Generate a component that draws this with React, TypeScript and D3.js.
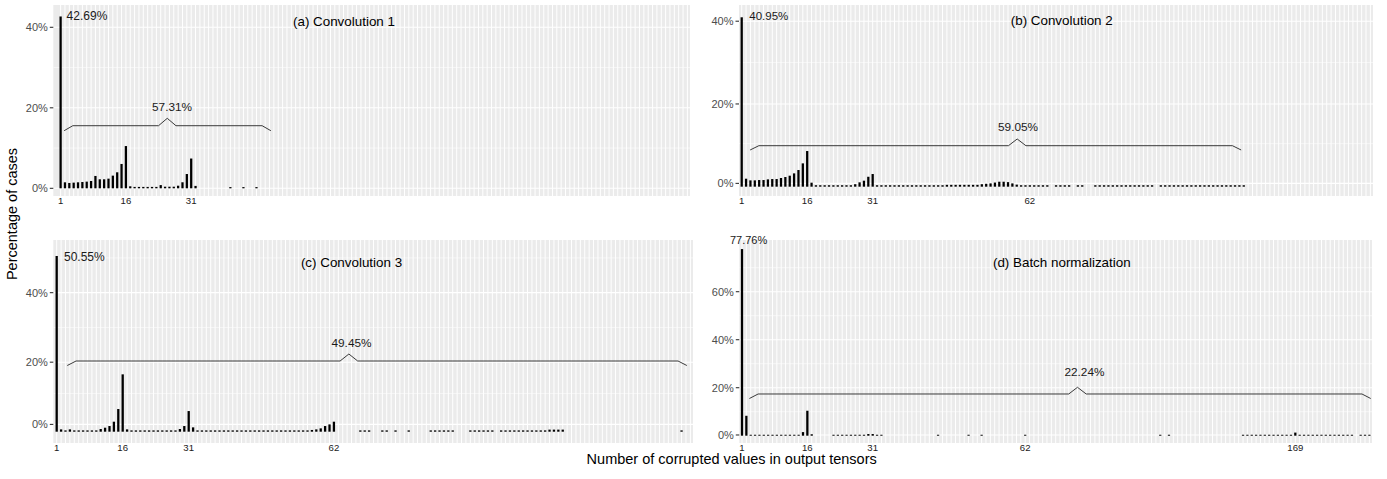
import React from "react";
import * as d3 from "d3";

// ---------- categories (discrete x positions of the shared factor) ----------
const N_LEVELS = 145;
const xLevels: number[] = d3.range(1, N_LEVELS + 1);

// ---------- (a) Convolution 1 ----------
const conv1X = [1,2,3,4,5,6,7,8,9,10,11,12,13,14,15,16,17,18,19,20,21,22,23,24,25,26,27,28,29,30,31,32,40,43,46];
const conv1Y = [42.69,1.49,1.33,1.41,1.49,1.57,1.66,1.82,3.07,2.24,2.24,2.4,3.15,3.98,6.05,10.5,0.5,0.35,0.35,0.35,0.35,0.35,0.35,0.8,0.4,0.4,0.4,0.65,1.5,3.55,7.4,0.6,0.3,0.3,0.3];

// ---------- (b) Convolution 2 ----------
const conv2X = [1,2,3,4,5,6,7,8,9,10,11,12,13,14,15,16,17,
  18,19,20,21,22,23,24,25,26,27,28,29,30,31,
  32,33,34,35,36,37,38,39,40,41,42,43,44,45,46,47,48,49,50,51,52,53,54,55,
  56,57,58,59,60,61,62,63,64,65,66,67,68,69,70,71,
  73,74,75,76,78,79,
  82,83,84,85,86,87,88,89,90,91,92,93,94,95,
  97,98,99,100,101,102,103,104,105,106,107,108,109,110,111,112,113,114,115,116];
const conv2Y = [40.95,1.93,1.53,1.53,1.61,1.61,1.77,1.85,1.85,2.1,2.34,2.66,3.22,4.03,5.64,8.62,0.97,
  0.35,0.35,0.35,0.35,0.35,0.35,0.35,0.35,0.35,0.6,1.05,1.45,2.4,3.06,
  0.35,0.35,0.35,0.35,0.35,0.35,0.35,0.35,0.35,0.35,0.35,0.35,0.35,0.35,0.35,0.35,0.45,0.45,0.45,0.45,0.45,0.45,0.45,0.45,
  0.6,0.7,0.8,1.0,1.2,1.2,1.1,0.8,0.5,0.35,0.35,0.35,0.35,0.35,0.35,0.35,
  0.35,0.35,0.35,0.35,0.35,0.35,
  0.35,0.35,0.35,0.35,0.35,0.35,0.35,0.35,0.35,0.35,0.35,0.35,0.35,0.35,
  0.35,0.35,0.35,0.35,0.35,0.35,0.35,0.35,0.35,0.35,0.35,0.35,0.35,0.35,0.35,0.35,0.35,0.35,0.35,0.35];

// ---------- (c) Convolution 3 ----------
const conv3X = [1,2,3,4,5,6,7,8,9,10,11,12,13,14,15,16,17,18,19,20,21,22,23,24,25,26,27,28,29,30,31,32,
  33,34,35,36,37,38,39,40,41,42,43,44,45,46,47,48,49,50,51,52,53,54,55,56,57,58,59,60,61,62,63,64,
  70,71,72,75,76,78,81,86,87,88,89,90,91,95,96,97,98,99,100,
  102,103,104,105,106,107,108,109,110,111,112,113,114,115,116,143];
const conv3Y = [50.55,0.67,0.38,0.67,0.38,0.38,0.38,0.38,0.38,0.38,0.77,1.15,1.63,2.88,6.52,16.5,0.67,0.38,0.38,0.38,0.38,0.38,0.38,0.38,0.38,0.38,0.38,0.38,0.77,1.63,5.94,1.25,
  0.38,0.38,0.38,0.38,0.38,0.38,0.38,0.38,0.38,0.38,0.38,0.38,0.38,0.38,0.38,0.38,0.38,0.38,0.38,0.38,0.38,0.38,0.38,0.38,0.38,0.38,0.5,0.67,0.96,1.63,2.1,2.88,
  0.38,0.38,0.38,0.38,0.38,0.38,0.38,0.38,0.38,0.38,0.38,0.38,0.38,0.38,0.38,0.38,0.38,0.38,0.38,
  0.38,0.38,0.38,0.38,0.38,0.38,0.38,0.38,0.38,0.38,0.38,0.6,0.6,0.6,0.6,0.38];

// ---------- (d) Batch normalization ----------
const bnX = [1,2,3,4,5,6,7,8,9,10,11,12,13,14,15,16,17,
  22,23,24,25,26,27,28,29,30,31,32,33,46,53,56,66,97,99,
  116,117,118,119,120,121,122,123,124,125,126,127,128,
  129,130,131,132,133,134,135,136,137,138,139,140,141,143,144,145];
const bnY = [77.76,8.3,0.4,0.4,0.4,0.4,0.4,0.4,0.4,0.4,0.4,0.4,0.4,0.4,1.5,10.4,0.6,
  0.4,0.4,0.4,0.4,0.4,0.4,0.4,0.4,0.7,0.7,0.4,0.4,0.4,0.4,0.4,0.4,0.4,0.4,
  0.4,0.4,0.4,0.4,0.4,0.4,0.4,0.4,0.4,0.4,0.4,0.4,1.3,
  0.4,0.4,0.4,0.4,0.4,0.4,0.4,0.4,0.4,0.4,0.4,0.4,0.4,0.4,0.4,0.4];

// ---------- tick labels ----------
const ticksA: [number, string][] = [[1, "1"], [16, "16"], [31, "31"]];
const ticksB: [number, string][] = [[1, "1"], [16, "16"], [31, "31"], [67, "62"]];
const ticksC: [number, string][] = [[1, "1"], [16, "16"], [31, "31"], [64, "62"]];
const ticksD: [number, string][] = [[1, "1"], [16, "16"], [31, "31"], [66, "62"], [128, "169"]];

const yLabels3 = ["0%", "20%", "40%"];
const yLabels4 = ["0%", "20%", "40%", "60%"];

const FONT = "'Liberation Sans', Arial, Helvetica, sans-serif";

type Brace = { x0: number; x1: number; xPeak: number; yLine: number; yTip: number; yPeak: number; label: string; labelX: number; labelY: number };
type PanelCfg = {
  id: string;
  title: string; titleX: number; titleY: number;
  xs: number[]; ys: number[];
  box: { left: number; right: number; top: number; bottom: number };
  padL: number; padR: number;
  yDomain: [number, number];
  yTickVals: number[]; yTickLabels: string[]; yMinor: number[];
  xTicks: [number, string][];
  brace: Brace;
  top: { text: string; dx: number; dy: number; anchor: "start" | "middle"; size: number };
};

const panels: PanelCfg[] = [
  {
    id: "a", title: "(a) Convolution 1", titleX: 66.1, titleY: 40.3,
    xs: conv1X, ys: conv1Y,
    box: { left: 53.3, right: 690, top: 5, bottom: 196 },
    padL: 1.68, padR: 0.6,
    yDomain: [-1.91, 45.54],
    yTickVals: [0, 20, 40], yTickLabels: yLabels3, yMinor: [10, 30],
    xTicks: ticksA,
    brace: { x0: 1.8, x1: 49.3, xPeak: 25.5, yLine: 15.55, yTip: 14.31, yPeak: 17.39, label: "57.31%", labelX: 26.6, labelY: 19.28 },
    top: { text: "42.69%", dx: 6, dy: 0, anchor: "start", size: 12 },
  },
  {
    id: "b", title: "(b) Convolution 2", titleX: 74.3, titleY: 39,
    xs: conv2X, ys: conv2Y,
    box: { left: 739, right: 1373, top: 5, bottom: 196 },
    padL: 0.62, padR: 0.6,
    yDomain: [-2.25, 43.92],
    yTickVals: [0.8, 20, 40], yTickLabels: yLabels3, yMinor: [10.4, 30],
    xTicks: ticksB,
    brace: { x0: 2.93, x1: 115.4, xPeak: 64.1, yLine: 9.91, yTip: 8.87, yPeak: 11.53, label: "59.05%", labelX: 64.3, labelY: 13.54 },
    top: { text: "40.95%", dx: 7.6, dy: -1, anchor: "start", size: 11.5 },
  },
  {
    id: "c", title: "(c) Convolution 3", titleX: 68, titleY: 47.4,
    xs: conv3X, ys: conv3Y,
    box: { left: 53.3, right: 693, top: 240, bottom: 443 },
    padL: 0.77, padR: 0.6,
    yDomain: [-3.25, 55.15],
    yTickVals: [2.1, 20, 40], yTickLabels: yLabels3, yMinor: [11, 30, 50],
    xTicks: ticksC,
    brace: { x0: 3.4, x1: 144.2, xPeak: 67.4, yLine: 20.34, yTip: 19.04, yPeak: 22.35, label: "49.45%", labelX: 68, labelY: 24.45 },
    top: { text: "50.55%", dx: 7.3, dy: 1.5, anchor: "start", size: 12 },
  },
  {
    id: "d", title: "(d) Batch normalization", titleX: 74.4, titleY: 70.3,
    xs: bnX, ys: bnY,
    box: { left: 739.3, right: 1372, top: 240, bottom: 443 },
    padL: 0.62, padR: 0.6,
    yDomain: [-3.04, 81.54],
    yTickVals: [0.3, 20, 40, 60], yTickLabels: yLabels4, yMinor: [10, 30, 50, 70],
    xTicks: ticksD,
    brace: { x0: 2.7, x1: 145.3, xPeak: 78, yLine: 17.38, yTip: 15.5, yPeak: 20.17, label: "22.24%", labelX: 79.6, labelY: 25 },
    top: { text: "77.76%", dx: 6.6, dy: -9.3, anchor: "middle", size: 11 },
  },
];

function Panel({ cfg }: { cfg: PanelCfg }) {
  const { box } = cfg;
  const step = (box.right - box.left) / (N_LEVELS - 1 + cfg.padL + cfg.padR);
  const x = d3.scaleLinear().domain([1, N_LEVELS]).range([box.left + cfg.padL * step, box.right - cfg.padR * step]);
  const y = d3.scaleLinear().domain(cfg.yDomain).range([box.bottom, box.top]);
  const barW = step * 0.52;
  const b = cfg.brace;
  const slope = 2;
  const bracePts: [number, number][] = [
    [x(b.x0), y(b.yTip)],
    [x(b.x0 + slope), y(b.yLine)],
    [x(b.xPeak - slope), y(b.yLine)],
    [x(b.xPeak), y(b.yPeak)],
    [x(b.xPeak + slope), y(b.yLine)],
    [x(b.x1 - slope), y(b.yLine)],
    [x(b.x1), y(b.yTip)],
  ];
  const line = d3.line();
  const clipId = `clip-${cfg.id}`;
  return (
    <g>
      <defs>
        <clipPath id={clipId}>
          <rect x={box.left} y={box.top} width={box.right - box.left} height={box.bottom - box.top} />
        </clipPath>
      </defs>
      <rect x={box.left} y={box.top} width={box.right - box.left} height={box.bottom - box.top} fill="#EBEBEB" />
      <g clipPath={`url(#${clipId})`}>
        {cfg.yMinor.map((v) => (
          <line key={`mn${v}`} x1={box.left} x2={box.right} y1={y(v)} y2={y(v)} stroke="#fff" strokeWidth={0.55} />
        ))}
        {cfg.yTickVals.map((v) => (
          <line key={`mj${v}`} x1={box.left} x2={box.right} y1={y(v)} y2={y(v)} stroke="#fff" strokeWidth={1.1} />
        ))}
        {xLevels.map((k) => (
          <line key={`vx${k}`} x1={x(k)} x2={x(k)} y1={box.top} y2={box.bottom} stroke="#fff" strokeWidth={1} />
        ))}
        {cfg.xs.map((k, i) => {
          const v = cfg.ys[i];
          const y0 = y(0);
          const y1 = y(v);
          return <rect key={`bar${k}`} x={x(k) - barW / 2} y={y1} width={barW} height={Math.max(0.8, y0 - y1)} fill="#000" />;
        })}
      </g>
      <path d={line(bracePts) || ""} fill="none" stroke="#3a3a3a" strokeWidth={1} />
      <text x={x(b.labelX)} y={y(b.labelY)} textAnchor="middle" fontSize={11.8} fontFamily={FONT} fill="#1a1a1a">{b.label}</text>
      <text x={x(cfg.titleX)} y={y(cfg.titleY)} textAnchor="middle" fontSize={13.4} fontFamily={FONT} fill="#000">{cfg.title}</text>
      <text x={x(1) + cfg.top.dx} y={y(cfg.ys[0]) + cfg.top.dy} textAnchor={cfg.top.anchor} dominantBaseline="central" fontSize={cfg.top.size} fontFamily={FONT} fill="#1a1a1a">{cfg.top.text}</text>
      {cfg.yTickVals.map((v, i) => (
        <g key={`yt${i}`}>
          <line x1={box.left - 3.5} x2={box.left} y1={y(v)} y2={y(v)} stroke="#333" strokeWidth={1.1} />
          <text x={box.left - 5.5} y={y(v)} textAnchor="end" dominantBaseline="central" fontSize={11} fontFamily={FONT} fill="#4d4d4d">{cfg.yTickLabels[i]}</text>
        </g>
      ))}
      {cfg.xTicks.map(([k, lab]) => (
        <text key={`xt${k}`} x={x(k)} y={box.bottom + 8} textAnchor="middle" fontSize={9.6} fontFamily={FONT} fill="#1a1a1a">{lab}</text>
      ))}
    </g>
  );
}

export default function App() {
  return (
    <svg width={1387} height={479} style={{ position: "absolute", left: 0, top: 0, background: "#fff" }} xmlns="http://www.w3.org/2000/svg">
      <rect x={0} y={0} width={1387} height={479} fill="#fff" />
      {panels.map((p) => <Panel key={p.id} cfg={p} />)}
      <text x={731.7} y={464} textAnchor="middle" fontSize={14.5} fontFamily={FONT} fill="#000">Number of corrupted values in output tensors</text>
      <text transform="translate(16.5,214) rotate(-90)" textAnchor="middle" fontSize={14.5} fontFamily={FONT} fill="#000">Percentage of cases</text>
    </svg>
  );
}
